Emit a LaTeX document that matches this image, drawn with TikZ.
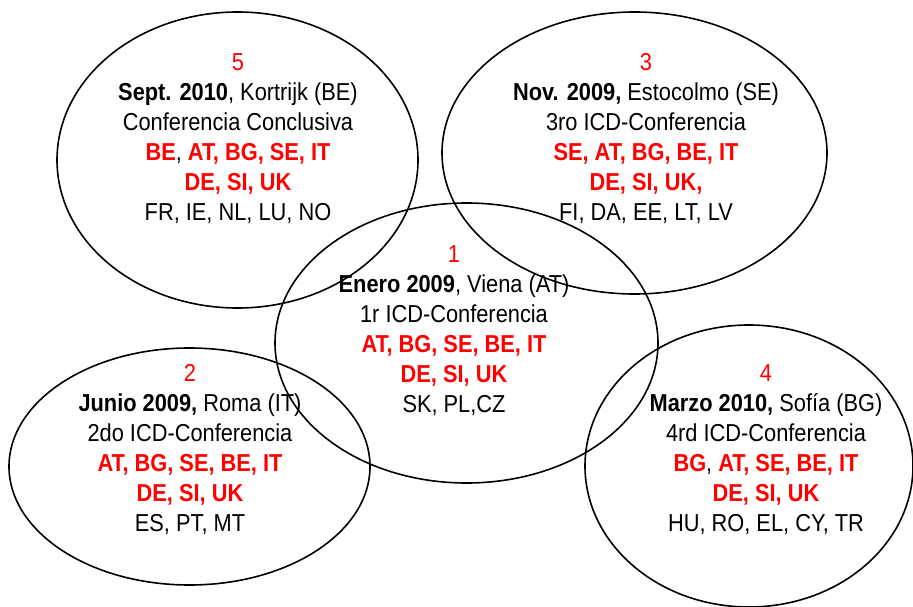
\documentclass[tikz,border=0pt]{standalone}
\usepackage{fontspec}
\setmainfont[FakeStretch=0.89]{Liberation Sans}
\usetikzlibrary{shapes.geometric}
\definecolor{rd}{RGB}{255,0,0}
\newcommand\redb[1]{\textcolor{rd}{\textbf{#1}}}
\newcommand\redn[1]{\textcolor{rd}{#1}}
\tikzset{
 conf/.style={ellipse,draw=black,line width=1.6pt,inner sep=0pt,outer sep=0pt},
 txt/.style={align=center,font=\fontsize{24.5}{30}\selectfont,inner sep=0pt},
}
\begin{document}
\begin{tikzpicture}[x=1pt,y=-1pt]
\useasboundingbox (0,0) rectangle (913,607);
\node[conf,minimum width=361pt,minimum height=296pt] (e5) at (237.5,160) {};
\node[conf,minimum width=385pt,minimum height=282pt] (e3) at (634.5,153) {};
\node[conf,minimum width=383pt,minimum height=280pt] (e1) at (466.5,343) {};
\node[conf,minimum width=361pt,minimum height=237pt] (e2) at (189.5,466.5) {};
\node[conf,minimum width=328pt,minimum height=282pt] (e4) at (749,466) {};
\node[txt] (t5) at (238,139) {\redn{5}\\ \textbf{Sept. 2010}, Kortrijk (BE)\\ Conferencia Conclusiva\\ \redb{BE}, \redb{AT, BG, SE, IT}\\ \redb{DE, SI, UK}\\ FR, IE, NL, LU, NO};
\node[txt] (t3) at (646,139) {\redn{3}\\ \textbf{Nov. 2009,} Estocolmo (SE)\\ 3ro ICD-Conferencia\\ \redb{SE, AT, BG, BE, IT}\\ \redb{DE, SI, UK,}\\ FI, DA, EE, LT, LV};
\node[txt] (t1) at (454,331) {\redn{1}\\ \textbf{Enero 2009}, Viena (AT)\\ 1r ICD-Conferencia\\ \redb{AT, BG, SE, BE, IT}\\ \redb{DE, SI, UK}\\ SK, PL,CZ};
\node[txt] (t2) at (190,450) {\redn{2}\\ \textbf{Junio 2009,} Roma (IT)\\ 2do ICD-Conferencia\\ \redb{AT, BG, SE, BE, IT}\\ \redb{DE, SI, UK}\\ ES, PT, MT};
\node[txt] (t4) at (766,450) {\redn{4}\\ \textbf{Marzo 2010,} Sofía (BG)\\ 4rd ICD-Conferencia\\ \redb{BG}, \redb{AT, SE, BE, IT}\\ \redb{DE, SI, UK}\\ HU, RO, EL, CY, TR};
\end{tikzpicture}
\end{document}
